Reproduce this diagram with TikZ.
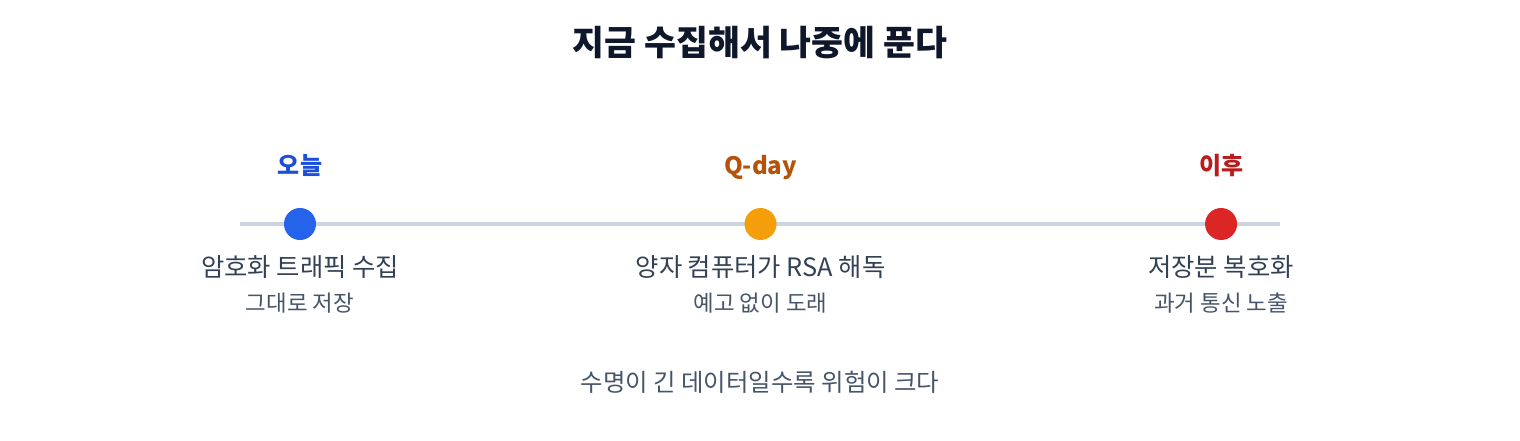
\documentclass[tikz,border=0pt]{standalone}
\usepackage{fontspec}
\setmainfont{Noto Sans CJK KR}
\usepackage{tikz}
\usepackage{xcolor}
\usetikzlibrary{positioning}

\definecolor{ink}{HTML}{0F172A}
\definecolor{bodytext}{HTML}{334155}
\definecolor{subtext}{HTML}{475569}
\definecolor{rail}{HTML}{CBD5E1}
\definecolor{nowblue}{HTML}{2563EB}
\definecolor{nowlabel}{HTML}{1D4ED8}
\definecolor{qorange}{HTML}{F59E0B}
\definecolor{qlabel}{HTML}{B45309}
\definecolor{laterred}{HTML}{DC2626}
\definecolor{laterlabel}{HTML}{B91C1C}

\tikzset{
  dot/.style={circle, minimum size=24pt, inner sep=0pt},
  heading/.style={inner sep=0pt, text=ink, text height=20.8pt, text depth=2.6pt,
    font=\fontsize{26pt}{30pt}\selectfont\bfseries},
  when/.style={inner sep=0pt, text height=14.4pt, text depth=1.8pt,
    font=\fontsize{18pt}{21pt}\selectfont\bfseries},
  event/.style={inner sep=0pt, text=bodytext, text height=15.2pt, text depth=1.9pt,
    font=\fontsize{19pt}{22pt}\selectfont},
  detail/.style={inner sep=0pt, text=subtext, text height=13.44pt, text depth=1.68pt,
    font=\fontsize{16.8pt}{20pt}\selectfont},
  moral/.style={inner sep=0pt, text=subtext, text height=14.64pt, text depth=1.83pt,
    font=\fontsize{18.3pt}{21pt}\selectfont},
}

\begin{document}
\begin{tikzpicture}[x=0.75pt, y=-0.75pt]
\useasboundingbox (0,0) rectangle (1520,440);

\node[heading] (title) at (760,43.5) {지금 수집해서 나중에 푼다};

\coordinate (railstart) at (240,224);
\coordinate (railend) at (1280,224);
\draw[rail, line width=3.3pt] (railstart) -- (railend);

\node[dot, fill=nowblue] (today) at (300,224) {};
\node[dot, fill=qorange, right=321pt of today] (qday) {};
\node[dot, fill=laterred, right=321pt of qday] (after) {};

\node[when, text=nowlabel, above=22.9pt of today] (todaylbl) {오늘};
\node[when, text=qlabel, above=22.9pt of qday] (qdaylbl) {Q-day};
\node[when, text=laterlabel, above=22.9pt of after] (afterlbl) {이후};

\node[event, below=11.7pt of today] (collect) {암호화 트래픽 수집};
\node[detail, below=10.9pt of collect] (store) {그대로 저장};
\node[event, below=11.7pt of qday] (break) {양자 컴퓨터가 RSA 해독};
\node[detail, below=10.9pt of break] (nowarn) {예고 없이 도래};
\node[event, below=11.7pt of after] (decrypt) {저장분 복호화};
\node[detail, below=10.9pt of decrypt] (exposed) {과거 통신 노출};

\node[moral] (lesson) at (760,382.5) {수명이 긴 데이터일수록 위험이 크다};
\end{tikzpicture}
\end{document}
